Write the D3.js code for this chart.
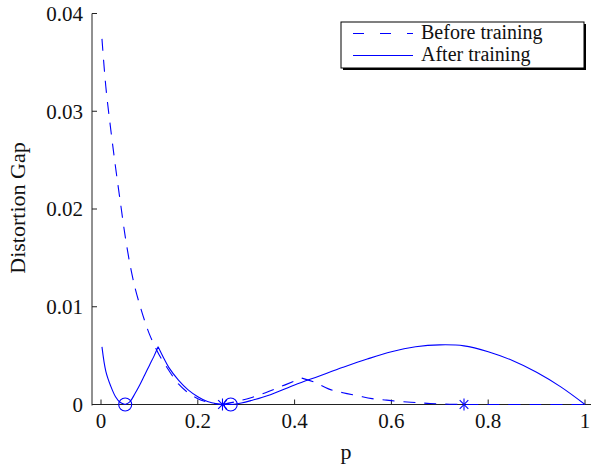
<!DOCTYPE html>
<html>
<head>
<meta charset="utf-8">
<script src="https://cdn.jsdelivr.net/npm/d3@7"></script>
<style>
  html, body { margin: 0; padding: 0; background: #fff; }
</style>
</head>
<body>
<svg id="chart" width="592" height="468"></svg>
<script>
// ---- data ----
const pBefore = [0.002,0.01,0.02,0.03,0.04,0.05,0.06,0.07,0.08,0.09,0.10,0.11,0.12,0.14,0.16,0.18,0.20,0.22,0.24,0.25,
                 0.28,0.31,0.34,0.37,0.40,0.415,0.44,0.47,0.50,0.53,0.56,0.59,0.62,0.65,0.68,0.72,0.76,0.80,0.90,1.0];
const before  = [0.0374,0.0325,0.0282,0.0243,0.0207,0.0172,0.0143,0.0120,0.0102,0.0086,0.0072,0.0061,0.0051,0.0035,0.0021,0.0012,0.0006,0.00025,0.00005,0,
                 0.0003,0.0007,0.0012,0.0018,0.0024,0.0027,0.0023,0.0016,0.0012,0.0009,0.0006,0.00045,0.0003,0.0002,0.0001,0.00003,0,0,0,0];
const beforeCusps = [0.25, 0.415];

const pAfter = [0.002,0.01,0.02,0.03,0.04,0.05,0.06,0.07,0.08,0.09,0.10,0.11,0.118,0.13,0.14,0.16,0.18,0.20,0.22,0.24,0.26,0.27,
                0.29,0.31,0.35,0.40,0.45,0.50,0.55,0.60,0.65,0.70,0.75,0.80,0.85,0.90,0.95,1.0];
const after  = [0.0059,0.0034,0.0019,0.0008,0.0002,0,0.0003,0.0011,0.0020,0.0030,0.0040,0.0050,0.0059,0.0047,0.0038,0.0025,0.0015,0.0008,0.0003,0.00007,0,0,
                0.00015,0.0004,0.0010,0.0020,0.0029,0.0038,0.00465,0.0054,0.0059,0.0061,0.0060,0.0054,0.0045,0.0033,0.0018,0];
const afterCusps = [0.05, 0.118];

const circleP = [0.05, 0.268];
const circleV = [0, 0];
const starP = [0.251, 0.75];
const starV = [0, 0];

const xTicks = [0, 0.2, 0.4, 0.6, 0.8, 1];
const xTickLabels = ["0", "0.2", "0.4", "0.6", "0.8", "1"];
const yTicks = [0, 0.01, 0.02, 0.03, 0.04];
const yTickLabels = ["0", "0.01", "0.02", "0.03", "0.04"];
const seriesNames = ["Before training", "After training"];

// ---- layout ----
const FONT = "'Liberation Serif', 'DejaVu Serif', 'Times New Roman', serif";
const svg = d3.select("#chart").attr("font-family", FONT);
const color = "#0000ff";
const x = d3.scaleLinear().domain([0, 1]).range([101, 585]);
const y = d3.scaleLinear().domain([0, 0.04]).range([404.5, 13.5]);
const axisLeftX = 92, axisRightX = 591;

// axes
const axisG = svg.append("g").attr("stroke", "#222").attr("stroke-width", 1).attr("fill", "none");
axisG.append("line").attr("x1", axisLeftX).attr("x2", axisLeftX).attr("y1", y(0.04)).attr("y2", y(0) + 1);
axisG.append("line").attr("x1", axisLeftX).attr("x2", axisRightX).attr("y1", y(0)).attr("y2", y(0));
yTicks.forEach(t => {
  axisG.append("line").attr("x1", axisLeftX).attr("x2", axisLeftX + 5).attr("y1", y(t)).attr("y2", y(t));
});
xTicks.forEach(t => {
  axisG.append("line").attr("x1", x(t)).attr("x2", x(t)).attr("y1", y(0)).attr("y2", y(0) - 5);
});
yTicks.forEach((t, i) => {
  svg.append("text").attr("x", axisLeftX - 9).attr("y", y(t)).attr("dy", "0.35em")
    .attr("text-anchor", "end").attr("font-size", 21).attr("font-family", FONT).attr("fill", "#111").text(yTickLabels[i]);
});
xTicks.forEach((t, i) => {
  svg.append("text").attr("x", x(t)).attr("y", 428)
    .attr("text-anchor", "middle").attr("font-size", 21).attr("font-family", FONT).attr("fill", "#111").text(xTickLabels[i]);
});
svg.append("text").attr("x", 346).attr("y", 459).attr("text-anchor", "middle")
  .attr("font-size", 22).attr("font-family", FONT).attr("fill", "#111").text("p");
svg.append("text").attr("transform", "translate(25,208) rotate(-90)")
  .attr("text-anchor", "middle").attr("font-size", 22).attr("font-family", FONT).attr("fill", "#111").text("Distortion Gap");

// curves (split at cusps so corners stay sharp)
function segments(ps, vs, cusps) {
  const pts = ps.map((p, i) => [p, vs[i]]);
  const segs = [];
  let cur = [];
  pts.forEach(pt => {
    cur.push(pt);
    if (cusps.includes(pt[0])) { segs.push(cur); cur = [pt]; }
  });
  if (cur.length > 1) segs.push(cur);
  return segs;
}
const line = d3.line().x(d => x(d[0])).y(d => Math.min(y(0), y(d[1]))).curve(d3.curveCatmullRom.alpha(0.5));

const beforePath = segments(pBefore, before, beforeCusps).map(s => line(s)).join("");
svg.append("path").attr("d", beforePath).attr("fill", "none").attr("stroke", color)
  .attr("stroke-width", 1.1).attr("stroke-dasharray", "12,9");

const afterPath = segments(pAfter, after, afterCusps).map(s => line(s)).join("");
svg.append("path").attr("d", afterPath).attr("fill", "none").attr("stroke", color)
  .attr("stroke-width", 1.1);

// markers
circleP.forEach((p, i) => {
  svg.append("circle").attr("cx", x(p)).attr("cy", y(circleV[i])).attr("r", 6.5)
    .attr("fill", "none").attr("stroke", color).attr("stroke-width", 1.1);
});
starP.forEach((p, i) => {
  const cx = x(p), cy = y(starV[i]), r = 6, d = r * 0.72;
  const g = svg.append("g").attr("stroke", color).attr("stroke-width", 1.1);
  g.append("line").attr("x1", cx).attr("x2", cx).attr("y1", cy - r).attr("y2", cy + r);
  g.append("line").attr("x1", cx - d).attr("x2", cx + d).attr("y1", cy - d).attr("y2", cy + d);
  g.append("line").attr("x1", cx - d).attr("x2", cx + d).attr("y1", cy + d).attr("y2", cy - d);
});

// legend
const lg = svg.append("g");
lg.append("rect").attr("x", 343).attr("y", 24).attr("width", 243).attr("height", 46).attr("fill", "#000");
lg.append("rect").attr("x", 341).attr("y", 22).attr("width", 243).attr("height", 46)
  .attr("fill", "#fff").attr("stroke", "#000").attr("stroke-width", 1);
const legendY = [33.5, 55.5];
seriesNames.forEach((name, i) => {
  lg.append("line").attr("x1", 353).attr("x2", 413).attr("y1", legendY[i]).attr("y2", legendY[i])
    .attr("stroke", color).attr("stroke-width", 1.1)
    .attr("stroke-dasharray", i === 0 ? "11,16" : null);
  lg.append("text").attr("x", 421).attr("y", legendY[i] + 5.5).attr("font-size", 20)
    .attr("font-family", FONT).attr("fill", "#111").text(name);
});
</script>
</body>
</html>
